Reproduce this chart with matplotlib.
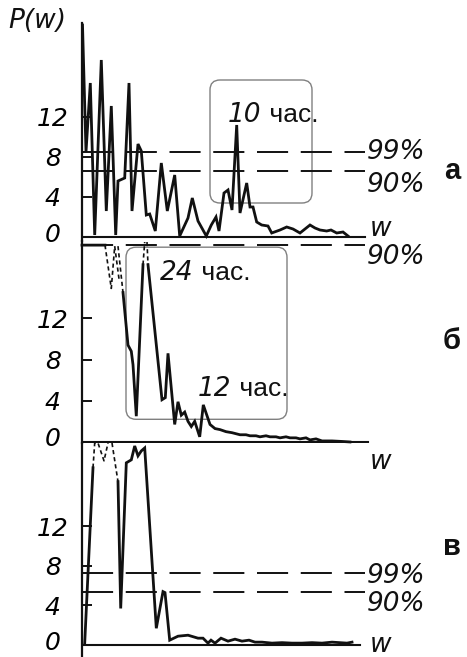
import matplotlib
matplotlib.use("Agg")
import matplotlib.pyplot as plt
import matplotlib.transforms as mtrans
from matplotlib.patches import FancyBboxPatch

# --- periodogram a ---
w_a = [0.05, 0.4, 0.83, 1.27, 1.93, 2.43, 2.93, 3.37, 3.6, 4.27, 4.7, 5.0, 5.6, 5.93,
       6.43, 6.77, 7.33, 7.93, 8.53, 9.27, 9.77, 10.6, 11.03, 11.6, 12.43, 12.93, 13.4,
       13.7, 14.2, 14.6, 15.0, 15.47, 15.8, 16.47, 16.8, 17.1, 17.47, 17.97, 18.6, 18.97,
       19.8, 20.47, 21.1, 21.8, 22.8, 23.3, 23.8, 24.47, 24.9, 25.47, 26.1, 26.6]
p_a = [21.2, 8.5, 15.4, 0.2, 17.7, 2.6, 13.1, 0.2, 5.6, 5.9, 15.4, 2.6, 9.3, 8.6,
       2.2, 2.3, 0.6, 7.4, 2.6, 6.2, 0.1, 1.9, 3.9, 1.6, 0.1, 1.2, 2.0,
       0.6, 4.4, 4.7, 2.7, 11.2, 2.4, 5.4, 3.0, 3.0, 1.5, 1.2, 1.1, 0.4,
       0.7, 1.0, 0.8, 0.4, 1.2, 0.9, 0.7, 0.6, 0.7, 0.4, 0.5, 0.1]
levels_a = [8.5, 6.6]
level_labels_a = ["99%", "90%"]

# --- periodogram б (solid part + parts above the scale drawn dashed) ---
w_b = [0.0, 2.3, None, 4.1, 4.6, 4.93, 5.1, 5.43, 6.1, None, 6.6, 8.0, 8.33, 8.6, 9.27,
       9.6, 9.93, 10.27, 10.6, 10.93, 11.27, 11.77, 12.13, 12.8, 13.3, 13.8, 14.4,
       15.0, 15.8, 16.4, 16.8, 17.4, 17.8, 18.4, 18.8, 19.4, 19.8, 20.4, 20.8, 21.4,
       21.8, 22.4, 22.8, 23.4, 24.0, 25.0, 26.0, 26.8]
p_b = [19.1, 19.1, None, 14.5, 9.4, 8.8, 7.5, 2.5, 17.2, None, 17.2, 4.1, 4.3, 8.6, 1.7,
       3.9, 2.6, 2.9, 2.0, 1.5, 2.0, 0.5, 3.6, 1.7, 1.3, 1.2, 1.0,
       0.9, 0.7, 0.7, 0.6, 0.6, 0.5, 0.6, 0.5, 0.5, 0.4, 0.5, 0.4, 0.4,
       0.3, 0.4, 0.2, 0.3, 0.1, 0.1, 0.05, 0.0]
w_b_over = [[2.3, 2.93, 3.27], [3.27, 3.73], [3.6, 4.1], [6.1, 6.27], [6.5, 6.6]]
p_b_over = [[19.1, 14.9, 19.0], [19.0, 15.6], [19.0, 14.5], [17.2, 19.4], [19.4, 17.2]]
levels_b = [19.1]
level_labels_b = ["90%"]

# --- periodogram в ---
w_c = [0.27, 1.1, None, 3.6, 3.87, 4.43, 4.93, 5.27, 5.6, 5.93, 6.27, 7.43, 8.1, 8.3,
       8.77, 9.6, 10.6, 11.6, 12.1, 12.6, 12.9, 13.3, 13.9, 14.6, 15.3, 16.0, 16.7,
       17.3, 18.0, 19.0, 20.0, 21.0, 22.0, 23.0, 24.0, 25.0, 26.5, 27.0]
p_c = [0.2, 17.9, None, 16.5, 3.7, 18.4, 18.7, 20.1, 19.1, 19.6, 19.9, 1.7, 5.4, 5.3,
       0.5, 0.9, 1.0, 0.7, 0.7, 0.2, 0.5, 0.2, 0.7, 0.4, 0.6, 0.4, 0.5,
       0.3, 0.3, 0.2, 0.25, 0.2, 0.2, 0.25, 0.2, 0.3, 0.2, 0.3]
w_c_over = [[1.1, 1.27, 1.6, 2.2, 2.6], [3.0, 3.6]]
p_c_over = [[17.9, 20.4, 20.4, 18.6, 20.4], [20.4, 16.5]]
levels_c = [7.3, 5.4]
level_labels_c = ["99%", "90%"]

ticks = [0, 4, 8, 12]
tick_labels = ["0", "4", "8", "12"]

W, H = 467, 657
ink = "#111111"
num_font = ["Liberation Sans Narrow", "DejaVu Sans"]
txt_font = ["Liberation Sans", "DejaVu Sans"]

fig = plt.figure(figsize=(W / 100, H / 100), dpi=100)
# the zero label sits a little above its baseline
lift = mtrans.ScaledTranslation(0, 5 / 100, fig.dpi_scale_trans)


def make_axes(top_px, bottom_px, ylim):
    ax = fig.add_axes([82 / W, 1 - bottom_px / H, 300 / W, (bottom_px - top_px) / H])
    ax.set_xlim(0, 30)
    ax.set_ylim(*ylim)
    ax.patch.set_alpha(0)
    for s in ["top", "right", "bottom"]:
        ax.spines[s].set_visible(False)
    ax.spines["left"].set_linewidth(1.6)
    ax.spines["left"].set_color(ink)
    ax.set_xticks([])
    ax.set_yticks(ticks)
    ax.set_yticklabels(tick_labels, family=num_font, style="italic", fontsize=18)
    ax.tick_params(axis="y", direction="in", length=7, width=1.4, color=ink, pad=21)
    for lab in ax.get_yticklabels():
        lab.set_ha("center")
    zero = ax.get_yticklabels()[0]
    zero.set_transform(zero.get_transform() + lift)
    return ax


ax_a = make_axes(23, 241, (-0.4, 21.4))
ax_b = make_axes(241, 443, (-0.1, 19.5))
ax_c = make_axes(443, 657, (-1.2, 20.4))

dash_long = (0, (16, 6.5))
dash_short = (0, (2.5, 1.8))


def draw_panel(ax, w, p, over_w, over_p, levels, labels, label_y, end):
    ax.axhline(0, xmin=0, xmax=end / 30, color=ink, lw=1.5)
    xs = [x if x is not None else float("nan") for x in w]
    ys = [y if y is not None else float("nan") for y in p]
    ax.plot(xs, ys, color=ink, lw=2.0, solid_joinstyle="miter", clip_on=False)
    for ow, op in zip(over_w, over_p):
        ax.plot(ow, op, color=ink, lw=1.2, linestyle=dash_short, clip_on=False)
    for lv, lab, ly in zip(levels, labels, label_y):
        ax.hlines(lv, 0, 28.3, colors=ink, lw=1.4, linestyles=[dash_long])
        ax.text(28.5, ly, lab, family=num_font, style="italic", fontsize=19,
                va="center", ha="left", color=ink)


draw_panel(ax_a, w_a, p_a, [], [], levels_a, level_labels_a, [8.5, 5.2], 28.3)
draw_panel(ax_b, w_b, p_b, w_b_over, p_b_over, levels_b, level_labels_b, [17.9], 28.6)
draw_panel(ax_c, w_c, p_c, w_c_over, p_c_over, levels_c, level_labels_c, [7.0, 4.1], 27.8)

# axis names
fig.text(8 / W, 1 - 21 / H, "P(w)", family=num_font, style="italic", fontsize=19,
         va="center", ha="left", color=ink)
for ax, y in [(ax_a, 0.8), (ax_b, -1.9), (ax_c, 0.0)]:
    ax.text(28.8, y, "w", family=num_font, style="italic", fontsize=19,
            va="center", ha="left", color=ink, clip_on=False)

# highlighted peaks
box_style = dict(boxstyle="round,pad=0,rounding_size=1.0", fc="none", ec="#808080", lw=1.0)
ax_a.add_patch(FancyBboxPatch((12.8, 3.4), 10.2, 12.3, clip_on=False, **box_style))
ax_b.add_patch(FancyBboxPatch((4.4, 2.2), 16.1, 16.7, clip_on=False, **box_style))


def period_label(ax, x, y, num):
    t = ax.text(x, y, num, family=num_font, style="italic", fontsize=19,
                va="center", ha="left", color=ink)
    ax.annotate(" час.", xycoords=t, xy=(1, 0.5), va="center", ha="left",
                family=txt_font, fontsize=19, color=ink)


period_label(ax_a, 14.6, 12.2, "10")
period_label(ax_b, 7.8, 16.4, "24")
period_label(ax_b, 11.6, 5.1, "12")

# panel letters
for ax, y, letter in [(ax_a, 6.6, "а"), (ax_b, 9.8, "б"), (ax_c, 9.9, "в")]:
    ax.text(37.0, y, letter, family=txt_font, fontweight="bold", fontsize=21,
            va="center", ha="center", color=ink, clip_on=False)

fig.savefig("out.png", dpi=100)
